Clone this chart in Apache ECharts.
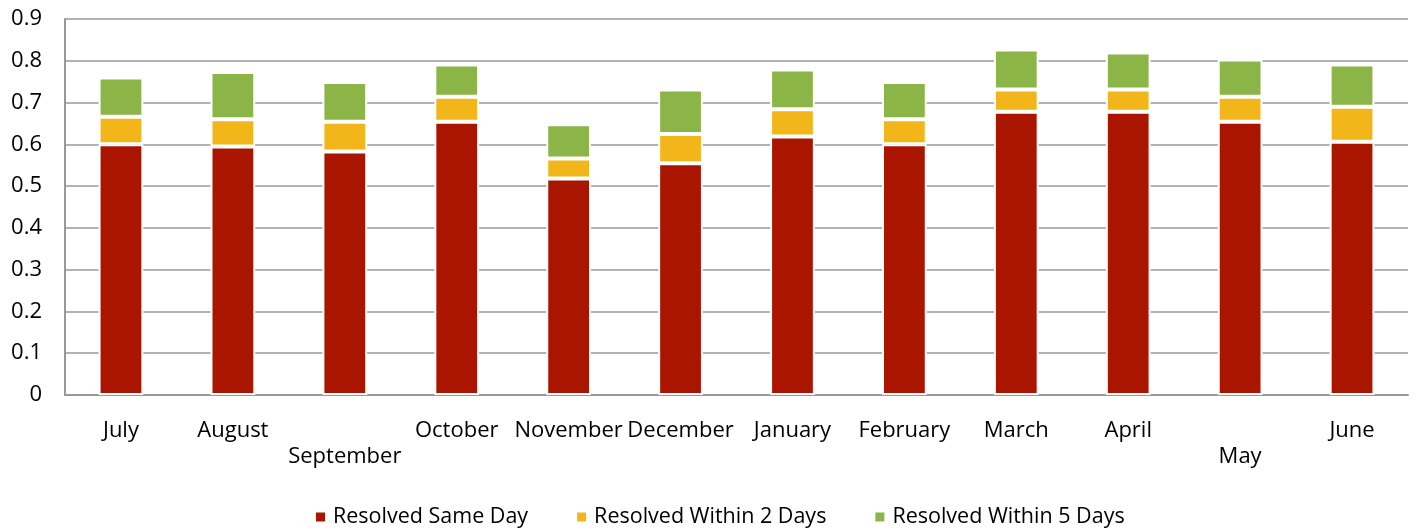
<!DOCTYPE html>
<html>
<head>
<meta charset="utf-8">
<script src="https://cdn.jsdelivr.net/npm/echarts@6/dist/echarts.min.js"></script>
<style>
  html, body { margin: 0; padding: 0; background: #fff; }
  #main { width: 1415px; height: 529px; }
</style>
</head>
<body>
<div id="main"></div>
<script>
const months = ["July", "August", "September", "October", "November", "December",
  "January", "February", "March", "April", "May", "June"];
// labels that Excel pushed down a line so they don't collide
const staggered = ["September", "May"];

const sameDay = [0.600, 0.595, 0.583, 0.654, 0.518, 0.555, 0.619, 0.600, 0.678, 0.678, 0.654, 0.606];
const within2 = [0.066, 0.065, 0.071, 0.060, 0.048, 0.070, 0.065, 0.060, 0.053, 0.053, 0.060, 0.084];
const within5 = [0.094, 0.113, 0.095, 0.077, 0.082, 0.106, 0.095, 0.089, 0.096, 0.089, 0.089, 0.101];

const yTicks = { min: 0, max: 0.9, interval: 0.1 };

let chart = echarts.init(document.getElementById("main"));
const font = "'Open Sans', sans-serif";

function barSeries(name, data, color) {
  return {
    name: name,
    type: "bar",
    stack: "total",
    data: data,
    barWidth: "40%",
    itemStyle: { color: color, borderColor: "#fff", borderWidth: 2 },
  };
}

let option = {
  animation: false,
  textStyle: { fontFamily: font },
  grid: { left: 65, right: 7, top: 19, bottom: 134 },
  legend: {
    left: 309,
    top: 501,
    icon: "rect",
    itemWidth: 11,
    itemHeight: 11,
    itemGap: 47,
    textStyle: { fontFamily: font, fontSize: 21.5, color: "#000", padding: [0, 0, 0, 2] },
    data: ["Resolved Same Day", "Resolved Within 2 Days", "Resolved Within 5 Days"],
  },
  xAxis: {
    type: "category",
    data: months,
    axisLine: { lineStyle: { color: "#999", width: 2 } },
    axisTick: { show: false },
    axisLabel: {
      interval: 0,
      margin: 23,
      fontSize: 22,
      lineHeight: 26,
      color: "#000",
      fontFamily: font,
      formatter: function (v) {
        return staggered.indexOf(v) >= 0 ? "\n" + v : v;
      },
    },
  },
  yAxis: {
    type: "value",
    min: yTicks.min,
    max: yTicks.max,
    interval: yTicks.interval,
    axisLine: { show: true, lineStyle: { color: "#999", width: 2 } },
    axisTick: { show: false },
    splitLine: { lineStyle: { color: "#999", width: 1.5 } },
    axisLabel: {
      margin: 23,
      fontSize: 22,
      color: "#000",
      fontFamily: font,
      formatter: function (v) {
        return String(Math.round(v * 10) / 10);
      },
    },
  },
  series: [
    barSeries("Resolved Same Day", sameDay, "#aa1500"),
    barSeries("Resolved Within 2 Days", within2, "#f3b61a"),
    barSeries("Resolved Within 5 Days", within5, "#8bb546"),
  ],
};

option && chart.setOption(option);
</script>
</body>
</html>
